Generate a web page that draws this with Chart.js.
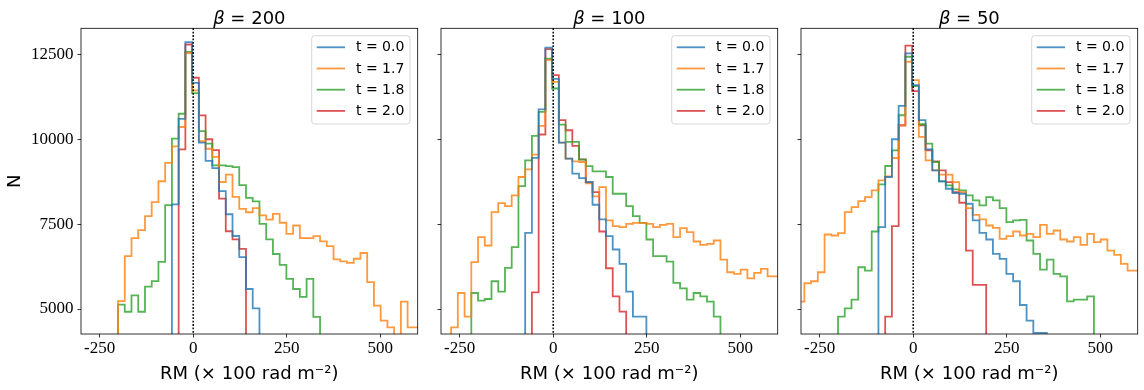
<!DOCTYPE html>
<html>
<head>
<meta charset="utf-8">
<script src="https://cdn.jsdelivr.net/npm/chart.js@4.4.1/dist/chart.umd.min.js"></script>
<style>
  html, body { margin: 0; padding: 0; background: #fff; }
  #fig { position: relative; width: 1144px; height: 390px; overflow: hidden; }
  #fig canvas { position: absolute; top: 0; }
</style>
</head>
<body>
<div id="fig">
  <canvas id="panel0" width="424" height="390" style="left:0px"></canvas>
  <canvas id="panel1" width="424" height="390" style="left:360px"></canvas>
  <canvas id="panel2" width="424" height="390" style="left:720px"></canvas>
</div>
<script>
// histogram bin edges (RM, x 100 rad m^-2), 51 bins of width 18
var binEdges = [-309, -291, -273, -255, -237, -219, -201, -183, -165, -147, -129,
    -111, -93, -75, -57, -39, -21, -3, 15, 33, 51, 69, 87, 105, 123, 141, 159,
    177, 195, 213, 231, 249, 267, 285, 303, 321, 339, 357, 375, 393, 411, 429,
    447, 465, 483, 501, 519, 537, 555, 573, 591, 609];

var xTicks = [-250, 0, 250, 500];
var yTicks = [5000, 7500, 10000, 12500];
var betaValues = [200, 100, 50];
var timeLabels = ['t = 0.0', 't = 1.7', 't = 1.8', 't = 2.0'];

// counts per bin; null = bin is below the bottom of the y axis
// beta = 200
var b200_t00 = [...Array(14).fill(null), 8080, 10600, 12860, 11660, 9900, 9360, 9150,
    8470, 7790, 7150, 6530, 5590, 5020];
var b200_t17 = [...Array(6).fill(null), 5235, 6560, 7087, 7323, 7734, 8146, 8763, 9302,
    9792, 10360, 12540, 11440, 9940, 9720, 9480, 8740, 8960, 8300, 7950, 7850, 7970,
    7755, 7630, 7800, 7540, 7210, 7460, 7090, 7090, 7145, 6990, 6850, 6460, 6400, 6360,
    6480, 6650, 5790, 5100, 4660, 4460, null, 5220, 4460, 4460];
var b200_t18 = [...Array(6).fill(null), 5130, 4920, 5400, 4920, 5660, 5820, 6390, 8060,
    10020, 10750, 12570, 11360, 10240, 9870, 9230, 9230, 9210, 9180, 8650, 8270, 8170,
    7510, 7050, 6620, 6300, 5890, 5590, 5360, 5890, 4770];
var b200_t20 = [...Array(15).fill(null), 9700, 12790, 11810, 10700, 10000, 9680, 8250,
    7290, 7050, 6770];

// beta = 100
var b100_t00 = [...Array(13).fill(null), 7240, 9450, 10880, 12695, 11780, 9900, 9430,
    8985, 8857, 8739, 8070, 7637, 7145, 6752, 6328, 5512, 4774, 4774];
var b100_t17 = [...Array(2).fill(null), 4459, 5472, 4774, 6378, 7116, 6870, 7854, 8119,
    8031, 8346, 8887, 9113, 9546, 10392, 12340, 11691, 9900, 9428, 9350, 9330, 8700,
    8316, 8592, 7608, 7440, 7411, 7509, 7539, 7539, 7509, 7411, 7480, 7509, 7116, 7381,
    7263, 6988, 6889, 6919, 7017, 6456, 6082, 6033, 6161, 5905, 6063, 6181, 5964, 5964];
var b100_t18 = [...Array(5).fill(null), 5472, 5246, 5295, 5817, 5512, 6210, 6820, 8621,
    9379, 10097, 10806, 12370, 11494, 10430, 9920, 9920, 9400, 9210, 9054, 9054, 8887,
    8395, 8395, 8031, 7735, 7539, 7047, 6555, 6555, 6397, 5768, 5610, 5276, 5472, 5374,
    5216, 4774];
var b100_t20 = [...Array(14).fill(null), 5490, 10140, 12656, 11888, 10560, 10264, 9802,
    9408, 8739, 8444, 7283, 6200, 5374, 4921];

// beta = 50
var b50_t00 = [...Array(12).fill(null), 7411, 8887, 9999, 10983, 12528, 11593, 10560,
    9704, 9084, 8759, 8542, 8414, 8395, 8100, 7608, 7243, 7047, 6624, 6476, 6033, 5817,
    5118, 4656, 4300, 4300];
var b50_t17 = [5216, 5758, 5817, 6082, 7194, 7165, 7234, 7854, 8001, 8178, 8296, 8493,
    8788, 8906, 9448, 10400, 12282, 11740, 10067, 9379, 9084, 8960, 8960, 8739, 8444,
    7972, 7775, 7637, 7460, 7391, 7066, 7145, 7283, 7165, 7214, 7116, 7480, 7214, 7312,
    7047, 6988, 7116, 6889, 7214, 6968, 7047, 6722, 6594, 6328, 6132, 6132];
var b50_t18 = [...Array(6).fill(null), 4774, 5020, 5275, 6230, 6132, 7283, 8670, 9211,
    9674, 10707, 12429, 11563, 10441, 9871, 9330, 8759, 8641, 8523, 8493, 8346, 8198,
    8050, 8296, 8198, 7972, 7558, 7608, 7627, 7017, 6624, 6161, 6456, 6033, 5964, 5226,
    5276, 5276, 5374];
var b50_t20 = [...Array(13).fill(null), 4774, 7440, 10412, 12754, 11416, 10412, 9674,
    9349, 9084, 8739, 8444, 8129, 6722, 5708, 5708];

var panelSeries = [
    [b200_t00, b200_t17, b200_t18, b200_t20],
    [b100_t00, b100_t17, b100_t18, b100_t20],
    [b50_t00, b50_t17, b50_t18, b50_t20]
];

var lineColors = ['rgba(31,119,180,0.8)', 'rgba(255,127,14,0.8)',
    'rgba(44,160,44,0.8)', 'rgba(214,39,40,0.8)'];

// turn bin counts into step-line vertices
function stepPoints(counts) {
    var pts = [];
    var first = counts.findIndex(function (c) { return c !== null; });
    pts.push({x: binEdges[first], y: 0});
    for (var j = first; j < counts.length; j++) {
        pts.push({x: binEdges[j], y: counts[j] === null ? 0 : counts[j]});
    }
    pts.push({x: binEdges[counts.length], y: 0});
    return pts;
}

// zero line, frame, legend box and title
var panelDecor = {
    id: 'panelDecor',
    afterDatasetsDraw: function (chart, args, opts) {
        var ctx = chart.ctx, a = chart.chartArea;
        ctx.save();

        var x0 = chart.scales.x.getPixelForValue(0);
        ctx.strokeStyle = '#111';
        ctx.lineWidth = 1.6;
        ctx.setLineDash([1.8, 1.6]);
        ctx.beginPath();
        ctx.moveTo(x0, a.top);
        ctx.lineTo(x0, a.bottom);
        ctx.stroke();
        ctx.setLineDash([]);

        ctx.strokeStyle = '#000';
        ctx.lineWidth = 0.8;
        ctx.strokeRect(a.left, a.top, a.right - a.left, a.bottom - a.top);

        // legend
        var w = 98.3, h = 88.3;
        var lx = a.right - 7.7 - w, ly = a.top + 7.4;
        ctx.beginPath();
        ctx.roundRect(lx, ly, w, h, 3);
        ctx.fillStyle = 'rgba(255,255,255,0.8)';
        ctx.fill();
        ctx.strokeStyle = 'rgba(204,204,204,0.8)';
        ctx.lineWidth = 1;
        ctx.stroke();
        ctx.font = '14px "DejaVu Sans"';
        ctx.textBaseline = 'middle';
        ctx.textAlign = 'left';
        chart.data.datasets.forEach(function (ds, i) {
            var ry = ly + 11.6 + 21.2 * i;
            ctx.strokeStyle = ds.borderColor;
            ctx.lineWidth = 1.8;
            ctx.beginPath();
            ctx.moveTo(lx + 5, ry);
            ctx.lineTo(lx + 33.3, ry);
            ctx.stroke();
            ctx.fillStyle = '#000';
            ctx.fillText(ds.label, lx + 44.3, ry + 0.5);
        });

        // title: italic beta, then " = value"
        var rest = ' = ' + opts.beta;
        ctx.font = 'italic 18px "DejaVu Sans"';
        var bw = ctx.measureText('\u03b2').width;
        ctx.font = '18px "DejaVu Sans"';
        var rw = ctx.measureText(rest).width;
        var tx = (a.left + a.right) / 2 - (bw + rw) / 2;
        ctx.textBaseline = 'alphabetic';
        ctx.fillStyle = '#000';
        ctx.font = 'italic 18px "DejaVu Sans"';
        ctx.fillText('\u03b2', tx, 24);
        ctx.font = '18px "DejaVu Sans"';
        ctx.fillText(rest, tx + bw, 24);

        ctx.restore();
    }
};

var tickGrid = {
    drawOnChartArea: false,
    drawTicks: true,
    tickLength: 3.5,
    color: '#000',
    lineWidth: 0.8
};

function makePanel(idx) {
    var cvs = document.getElementById('panel' + idx);
    return new Chart(cvs, {
        type: 'line',
        data: {
            datasets: panelSeries[idx].map(function (counts, s) {
                return {
                    label: timeLabels[s],
                    data: stepPoints(counts),
                    borderColor: lineColors[s],
                    borderWidth: 1.8,
                    pointRadius: 0,
                    stepped: true,
                    fill: false
                };
            })
        },
        options: {
            responsive: false,
            animation: false,
            events: [],
            layout: {padding: {top: 28.3, right: 6.3, left: 0, bottom: 0}},
            scales: {
                x: {
                    type: 'linear',
                    min: -300,
                    max: 600,
                    afterBuildTicks: function (s) {
                        s.ticks = xTicks.map(function (v) { return {value: v}; });
                    },
                    afterFit: function (s) { s.height = 56; },
                    grid: tickGrid,
                    border: {display: false},
                    ticks: {
                        padding: 1,
                        maxRotation: 0,
                        autoSkip: false,
                        color: '#000',
                        font: {family: '"Liberation Serif"', size: 17},
                        callback: function (v) { return String(v); }
                    },
                    title: {
                        display: true,
                        text: 'RM (\u00d7 100 rad m\u207b\u00b2)',
                        color: '#000',
                        font: {family: '"DejaVu Sans"', size: 18, lineHeight: 1},
                        padding: {top: 0, bottom: 7}
                    }
                },
                y: {
                    min: 4264,
                    max: 13267,
                    afterBuildTicks: function (s) {
                        s.ticks = yTicks.map(function (v) { return {value: v}; });
                    },
                    afterFit: function (s) { s.width = 81; },
                    grid: tickGrid,
                    border: {display: false},
                    ticks: {
                        padding: 4,
                        color: '#000',
                        font: {family: '"Liberation Serif"', size: 17},
                        callback: function (v) { return idx === 0 ? String(v) : ''; }
                    },
                    title: {
                        display: idx === 0,
                        text: 'N',
                        color: '#000',
                        font: {family: '"DejaVu Sans"', size: 18, lineHeight: 1},
                        padding: {top: 6.5, bottom: 0}
                    }
                }
            },
            plugins: {
                legend: {display: false},
                tooltip: {enabled: false},
                panelDecor: {beta: betaValues[idx]}
            }
        },
        plugins: [panelDecor]
    });
}

makePanel(0);
makePanel(1);
makePanel(2);
</script>
</body>
</html>
